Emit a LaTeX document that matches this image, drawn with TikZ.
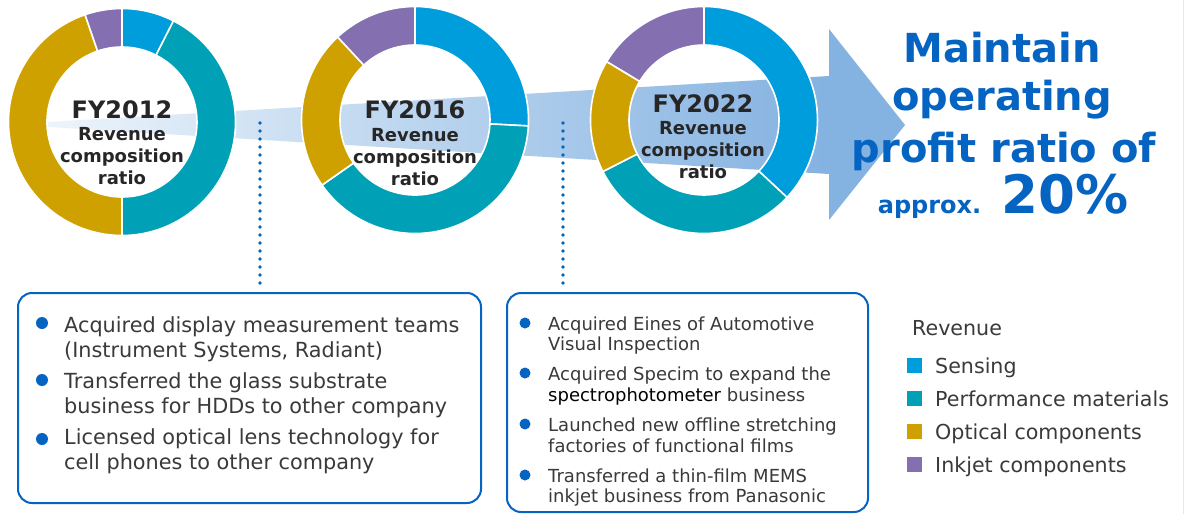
\documentclass[tikz,border=0pt]{standalone}
\usepackage{fontspec}
\setmainfont{DejaVu Sans}
\usetikzlibrary{calc}
\definecolor{sens}{HTML}{009DDC}
\definecolor{perf}{HTML}{00A0B6}
\definecolor{opti}{HTML}{CFA100}
\definecolor{inkj}{HTML}{8470B0}
\definecolor{hblue}{HTML}{0563C1}
\definecolor{dtext}{HTML}{262626}
\definecolor{btext}{HTML}{3A3A3A}
\definecolor{bandL}{HTML}{EDF4FB}
\definecolor{bandR}{HTML}{84B2E1}
\newcommand\Ro{113.5}
\newcommand\Ri{75}
\newcommand\ringseg[4]{\fill[#4, draw=white, line width=1.6pt] ($(#1)+(#2:\Ro)$) arc[start angle=#2, end angle=#3, radius=\Ro] -- ($(#1)+(#3:\Ri)$) arc[start angle=#3, end angle=#2, radius=\Ri] -- cycle;}
\tikzset{
  donut/.style={circle, minimum size=227pt, inner sep=0pt},
  yearlbl/.style={anchor=base, inner sep=0pt, text=dtext, font=\bfseries\fontsize{24}{24}\selectfont},
  sublbl/.style={anchor=base, inner sep=0pt, text=dtext, font=\bfseries\fontsize{18}{22}\selectfont},
  head/.style={anchor=base, inner sep=0pt, text=hblue, font=\bfseries\fontsize{40}{40}\selectfont},
  infobox/.style={draw=hblue, line width=2pt, rounded corners=14pt, fill=white, inner sep=0pt},
  boxtext/.style={anchor=base west, inner sep=0pt, text=btext},
  bul/.style={fill=hblue},
  dotline/.style={draw=hblue, line width=3.6pt, line cap=round, dash pattern=on 0pt off 8pt},
  legsq/.style={inner sep=0pt, minimum size=15pt, anchor=south west},
  legtxt/.style={anchor=base west, inner sep=0pt, text=btext, font=\fontsize{20.6}{20.6}\selectfont},
}
\begin{document}
\begin{tikzpicture}[x=1pt,y=1pt]
\useasboundingbox (0,0) rectangle (1184,-514);
\fill[white] (0,0) rectangle (1184,-514);
\fill[black!9] (1182.6,0) rectangle (1184,-514);
% band and arrow
\shade[left color=bandL, right color=bandR] (48,-122) -- (829,-76) -- (829,-174) -- (48,-127) -- cycle;
\fill[bandR] (829,-29) -- (905,-125) -- (829,-220) -- cycle;
% donuts
\node[donut] (d1) at (122,-122) {};
\node[donut] (d2) at (415,-120) {};
\node[donut] (d3) at (704,-120) {};
\ringseg{d1.center}{90}{63}{sens}
\ringseg{d1.center}{63}{-90}{perf}
\ringseg{d1.center}{270}{109}{opti}
\ringseg{d1.center}{109}{90}{inkj}
\ringseg{d2.center}{90}{-3}{sens}
\ringseg{d2.center}{-3}{-145}{perf}
\ringseg{d2.center}{215}{133}{opti}
\ringseg{d2.center}{133}{90}{inkj}
\ringseg{d3.center}{90}{-43}{sens}
\ringseg{d3.center}{-43}{-153}{perf}
\ringseg{d3.center}{207}{149}{opti}
\ringseg{d3.center}{149}{90}{inkj}
% donut labels
\node[yearlbl] (y1) at (122,-118) {FY2012};
\node[sublbl] (s1) at (122,-140) {\begin{tabular}[t]{@{}c@{}}Revenue\\composition\\ratio\end{tabular}};
\node[yearlbl] (y2) at (415,-118) {FY2016};
\node[sublbl] (s2) at (415,-141) {\begin{tabular}[t]{@{}c@{}}Revenue\\composition\\ratio\end{tabular}};
\node[yearlbl] (y3) at (703,-112) {FY2022};
\node[sublbl] (s3) at (703,-134) {\begin{tabular}[t]{@{}c@{}}Revenue\\composition\\ratio\end{tabular}};
% heading
\node[head] (h1) at (1002,-62) {Maintain};
\node[head] (h2) at (1002,-110) {operating};
\node[head] (h3) at (1004,-162) {profit ratio of};
\node[head] (h4) at (1003,-213) {{\fontsize{24}{24}\selectfont approx.}\hspace{20pt}{\fontsize{53}{53}\selectfont 20\%}};
% boxes
\node[infobox, minimum width=463pt, minimum height=210pt] (box1) at (249.5,-398) {};
\node[infobox, minimum width=361pt, minimum height=219pt] (box2) at (687.5,-402.5) {};
\node[boxtext, font=\fontsize{20.8}{25}\selectfont] (b1t) at (64,-332) {\begin{tabular}[t]{@{}l@{}}
Acquired display measurement teams\\
(Instrument Systems, Radiant)\\[6pt]
Transferred the glass substrate\\
business for HDDs to other company\\[6pt]
Licensed optical lens technology for\\
cell phones to other company\end{tabular}};
\fill[bul] (42,-323) circle (6);
\fill[bul] (42,-380) circle (6);
\fill[bul] (42,-439) circle (6);
\node[boxtext, font=\fontsize{18}{20.4}\selectfont] (b2t) at (548,-330) {\begin{tabular}[t]{@{}l@{}}
Acquired Eines of Automotive\\
Visual Inspection\\[10pt]
Acquired Specim to expand the\\
\textcolor{black}{spectrophotometer} business\\[10pt]
Launched new offline stretching\\
factories of functional films\\[10pt]
Transferred a thin-film MEMS\\
inkjet business from Panasonic\end{tabular}};
\fill[bul] (525,-323) circle (5.5);
\fill[bul] (525,-373) circle (5.5);
\fill[bul] (525,-424) circle (5.5);
\fill[bul] (525,-475) circle (5.5);
% dotted connectors
\coordinate (p1) at (260,-123);
\coordinate (p2) at (563,-123);
\draw[dotline, shorten >=8pt] (p1) -- (p1 |- box1.north);
\draw[dotline, shorten >=8pt] (p2) -- (p2 |- box2.north);
% legend
\node[legtxt] (lt) at (912,-335) {Revenue};
\node[legsq, fill=sens] (q1) at (907,-373) {};
\node[legtxt] (l1) at (935,-373) {Sensing};
\node[legsq, fill=perf] (q2) at (907,-406) {};
\node[legtxt] (l2) at (935,-406) {Performance materials};
\node[legsq, fill=opti] (q3) at (907,-439) {};
\node[legtxt] (l3) at (935,-439) {Optical components};
\node[legsq, fill=inkj] (q4) at (907,-472) {};
\node[legtxt] (l4) at (935,-472) {Inkjet components};
\end{tikzpicture}
\end{document}
